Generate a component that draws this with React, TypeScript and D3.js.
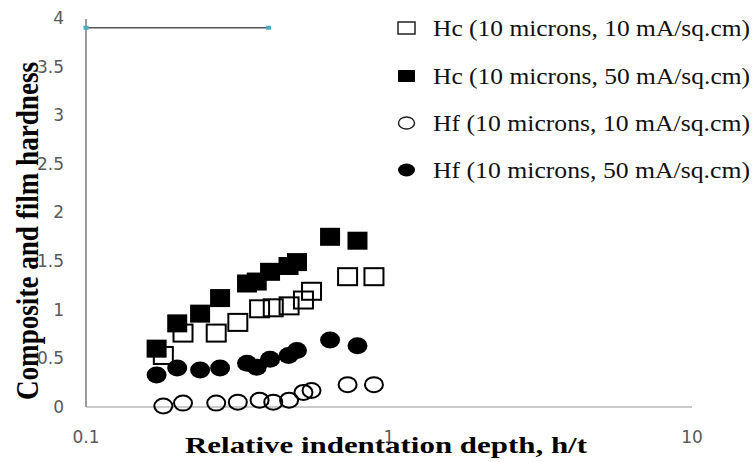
import React from 'react';
import * as d3 from 'd3';

// relative indentation depth h/t (shared by Hc and Hf of the same deposit)
const depth10 = [0.18, 0.209, 0.269, 0.317, 0.374, 0.415, 0.468, 0.522, 0.555, 0.73, 0.892];
const depth50 = [0.171, 0.2, 0.238, 0.277, 0.34, 0.366, 0.405, 0.466, 0.497, 0.639, 0.787];

const hc10 = [0.53, 0.76, 0.76, 0.87, 1.01, 1.02, 1.04, 1.1, 1.19, 1.34, 1.34];
const hc50 = [0.6, 0.86, 0.96, 1.12, 1.27, 1.29, 1.39, 1.45, 1.49, 1.75, 1.71];
const hf10 = [0.01, 0.04, 0.04, 0.05, 0.07, 0.05, 0.07, 0.15, 0.17, 0.23, 0.23];
const hf50 = [0.33, 0.4, 0.38, 0.4, 0.45, 0.41, 0.49, 0.53, 0.58, 0.69, 0.63];

// stray reference line at the top of the plot
const refX = [0.1, 0.4];
const refY = [3.9, 3.9];

const xTicks = [0.1, 1, 10];
const yTicks = [0, 0.5, 1, 1.5, 2, 2.5, 3, 3.5, 4];

const legendLabels = [
  'Hc (10 microns, 10 mA/sq.cm)',
  'Hc (10 microns, 50 mA/sq.cm)',
  'Hf (10 microns, 10 mA/sq.cm)',
  'Hf (10 microns, 50 mA/sq.cm)',
];

const W = 756;
const H = 462;

export default function App() {
  const x = d3.scaleLog().domain([0.1, 10]).range([86, 692]);
  const y = d3.scaleLinear().domain([0, 4]).range([407, 18]);

  const refLine = d3.line<number>()
    .x((d) => x(d))
    .y((_, i) => y(refY[i]));

  const sq = 20;
  const serif = '"Liberation Serif", "Times New Roman", serif';
  const sans = '"DejaVu Sans", sans-serif';

  const legendRows = [28, 76, 123, 170];

  return (
    <svg width={W} height={H} style={{ position: 'absolute', left: 0, top: 0, background: '#fff' }}>
      <rect width={W} height={H} fill="#fff" />

      {/* axes */}
      <line x1={x(0.1)} x2={x(10)} y1={y(0)} y2={y(0)} stroke="#b8b8b8" strokeWidth={1.5} />
      <line x1={x(0.1)} x2={x(0.1)} y1={y(0)} y2={y(4) + 1} stroke="#7a7a7a" strokeWidth={1.5} />

      {yTicks.map((t) => (
        <text key={t} x={64} y={y(t)} dy="0.35em" textAnchor="end" fontFamily={sans} fontSize={17} fill="#595959">
          {t}
        </text>
      ))}
      {xTicks.map((t) => (
        <text key={t} x={x(t)} y={443} textAnchor="middle" fontFamily={sans} fontSize={17} fill="#595959">
          {t}
        </text>
      ))}

      {/* reference line */}
      <path d={refLine(refX) || ''} fill="none" stroke="#555" strokeWidth={1.5} />
      {refX.map((v, i) => (
        <rect key={i} x={x(v) - 2.5} y={y(refY[i]) - 2} width={5} height={4} fill="#4bacc6" />
      ))}

      {/* Hc 10 - open squares */}
      {depth10.map((d, i) => (
        <rect key={'hc10' + i} x={x(d) - sq / 2 + 0.5} y={y(hc10[i]) - sq / 2 + 1.5} width={sq - 1} height={sq - 3}
          fill="none" stroke="#000" strokeWidth={2} />
      ))}
      {/* Hf 10 - open circles */}
      {depth10.map((d, i) => (
        <ellipse key={'hf10' + i} cx={x(d)} cy={y(hf10[i])} rx={9} ry={7.5}
          fill="none" stroke="#000" strokeWidth={2} />
      ))}
      {/* Hc 50 - filled squares */}
      {depth50.map((d, i) => (
        <rect key={'hc50' + i} x={x(d) - sq / 2} y={y(hc50[i]) - sq / 2 + 1} width={sq} height={sq - 2} fill="#000" />
      ))}
      {/* Hf 50 - filled circles */}
      {depth50.map((d, i) => (
        <ellipse key={'hf50' + i} cx={x(d)} cy={y(hf50[i])} rx={10} ry={8.5} fill="#000" />
      ))}

      {/* legend */}
      {legendLabels.map((label, i) => {
        const cy = legendRows[i];
        let marker;
        if (i === 0) marker = <rect x={398} y={cy - 6} width={17} height={12} fill="none" stroke="#222" strokeWidth={1.5} />;
        else if (i === 1) marker = <rect x={398} y={cy - 6} width={17} height={12} fill="#000" />;
        else if (i === 2) marker = <ellipse cx={406.5} cy={cy} rx={8} ry={6} fill="none" stroke="#222" strokeWidth={1.5} />;
        else marker = <ellipse cx={406.5} cy={cy} rx={8.5} ry={6.5} fill="#000" />;
        return (
          <g key={label}>
            {marker}
            <text x={433} y={cy + 8} fontFamily={serif} fontSize={23} fill="#111"
              textLength={317} lengthAdjust="spacingAndGlyphs">
              {label}
            </text>
          </g>
        );
      })}

      {/* axis titles */}
      <text x={386} y={453} textAnchor="middle" fontFamily={serif} fontWeight="bold" fontSize={23}
        textLength={402} lengthAdjust="spacingAndGlyphs" fill="#000">
        Relative indentation depth, h/t
      </text>
      <text transform="translate(38,231) rotate(-90)" textAnchor="middle" fontFamily={serif} fontWeight="bold"
        fontSize={31} textLength={338} lengthAdjust="spacingAndGlyphs" fill="#000">
        Composite and film hardness
      </text>
    </svg>
  );
}
